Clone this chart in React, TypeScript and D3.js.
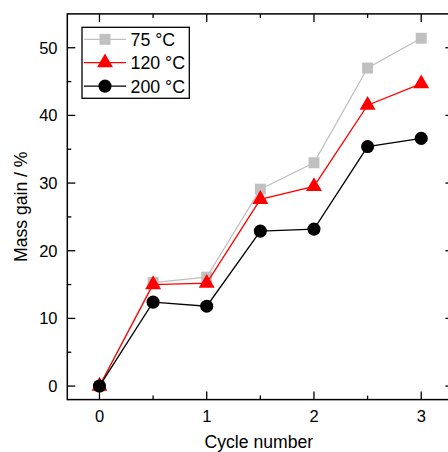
import React from "react";
import * as d3 from "d3";

const cycles = [0, 0.5, 1, 1.5, 2, 2.5, 3];
const mass75 = [0, 15.3, 16.1, 29.1, 33.0, 47.0, 51.4];
const mass120 = [0, 15.0, 15.2, 27.6, 29.5, 41.5, 44.7];
const mass200 = [0, 12.4, 11.8, 22.9, 23.2, 35.4, 36.6];
const seriesNames = ["75 °C", "120 °C", "200 °C"];
const xTicks = [0, 1, 2, 3];
const xMinor = [0.5, 1.5, 2.5];
const yTicks = [0, 10, 20, 30, 40, 50];
const yMinor = [5, 15, 25, 35, 45];

const W = 448;
const H = 452;
const FONT = "'Liberation Sans', Arial, sans-serif";

export default function App() {
  const x = d3.scaleLinear().domain([-0.3, 3.3]).range([67.3, 453.4]);
  const y = d3.scaleLinear().domain([-2, 55]).range([399.6, 13.9]);
  const x0 = x.range()[0], x1 = x.range()[1];
  const y0 = y.range()[0], y1 = y.range()[1];

  const series = [
    { name: seriesNames[0], values: mass75, color: "#c0c0c0", symbol: d3.symbolSquare, size: 120 },
    { name: seriesNames[1], values: mass120, color: "#ff0000", symbol: d3.symbolTriangle, size: 110 },
    { name: seriesNames[2], values: mass200, color: "#000000", symbol: d3.symbolCircle, size: 135 },
  ];

  const line = d3
    .line<number>()
    .x((_, i) => x(cycles[i]))
    .y((d) => y(d));

  const major = 8;
  const minor = 4;

  return (
    <svg width={W} height={H} style={{ position: "absolute", left: 0, top: 0 }} fontFamily={FONT}>
      <rect x={0} y={0} width={W} height={H} fill="#fff" />
      {series.map((s) => (
        <g key={s.name}>
          <path d={line(s.values) || ""} fill="none" stroke={s.color} strokeWidth={1.3} />
          {s.values.map((v, i) => (
            <path
              key={i}
              d={d3.symbol().type(s.symbol).size(s.size)() || ""}
              transform={`translate(${x(cycles[i])},${y(v)})`}
              fill={s.color}
            />
          ))}
        </g>
      ))}
      <rect x={x0} y={y1} width={x1 - x0} height={y0 - y1} fill="none" stroke="#000" strokeWidth={1.5} />
      {xTicks.map((t) => (
        <g key={"xt" + t}>
          <line x1={x(t)} x2={x(t)} y1={y0} y2={y0 - major} stroke="#000" strokeWidth={1.3} />
          <line x1={x(t)} x2={x(t)} y1={y1} y2={y1 + major} stroke="#000" strokeWidth={1.3} />
          <text x={x(t)} y={421.5} textAnchor="middle" fontSize={16.5}>
            {t}
          </text>
        </g>
      ))}
      {xMinor.map((t) => (
        <g key={"xm" + t}>
          <line x1={x(t)} x2={x(t)} y1={y0} y2={y0 - minor} stroke="#000" strokeWidth={1.3} />
          <line x1={x(t)} x2={x(t)} y1={y1} y2={y1 + minor} stroke="#000" strokeWidth={1.3} />
        </g>
      ))}
      {yTicks.map((t) => (
        <g key={"yt" + t}>
          <line x1={x0} x2={x0 + major} y1={y(t)} y2={y(t)} stroke="#000" strokeWidth={1.3} />
          <line x1={x1} x2={x1 - major} y1={y(t)} y2={y(t)} stroke="#000" strokeWidth={1.3} />
          <text x={57.5} y={y(t) + 5.9} textAnchor="end" fontSize={16.5}>
            {t}
          </text>
        </g>
      ))}
      {yMinor.map((t) => (
        <g key={"ym" + t}>
          <line x1={x0} x2={x0 + minor} y1={y(t)} y2={y(t)} stroke="#000" strokeWidth={1.3} />
          <line x1={x1} x2={x1 - minor} y1={y(t)} y2={y(t)} stroke="#000" strokeWidth={1.3} />
        </g>
      ))}
      <text x={(x0 + x1) / 2 - 1.5} y={447.5} textAnchor="middle" fontSize={17.6}>
        Cycle number
      </text>
      <text
        transform={`translate(26.5,${(y0 + y1) / 2}) rotate(-90)`}
        textAnchor="middle"
        fontSize={17.6}
      >
        Mass gain / %
      </text>
      <rect x={82} y={27.3} width={107.3} height={71} fill="#fff" stroke="#000" strokeWidth={1.3} />
      {series.map((s, i) => {
        const cy = 39.3 + i * 23.4;
        return (
          <g key={"lg" + s.name}>
            <line x1={84} x2={126} y1={cy} y2={cy} stroke={s.color} strokeWidth={1.3} />
            <path
              d={d3.symbol().type(s.symbol).size(s.size)() || ""}
              transform={`translate(105,${cy})`}
              fill={s.color}
            />
            <text x={130.5} y={cy + 6.6} fontSize={17.8}>
              {s.name}
            </text>
          </g>
        );
      })}
    </svg>
  );
}
